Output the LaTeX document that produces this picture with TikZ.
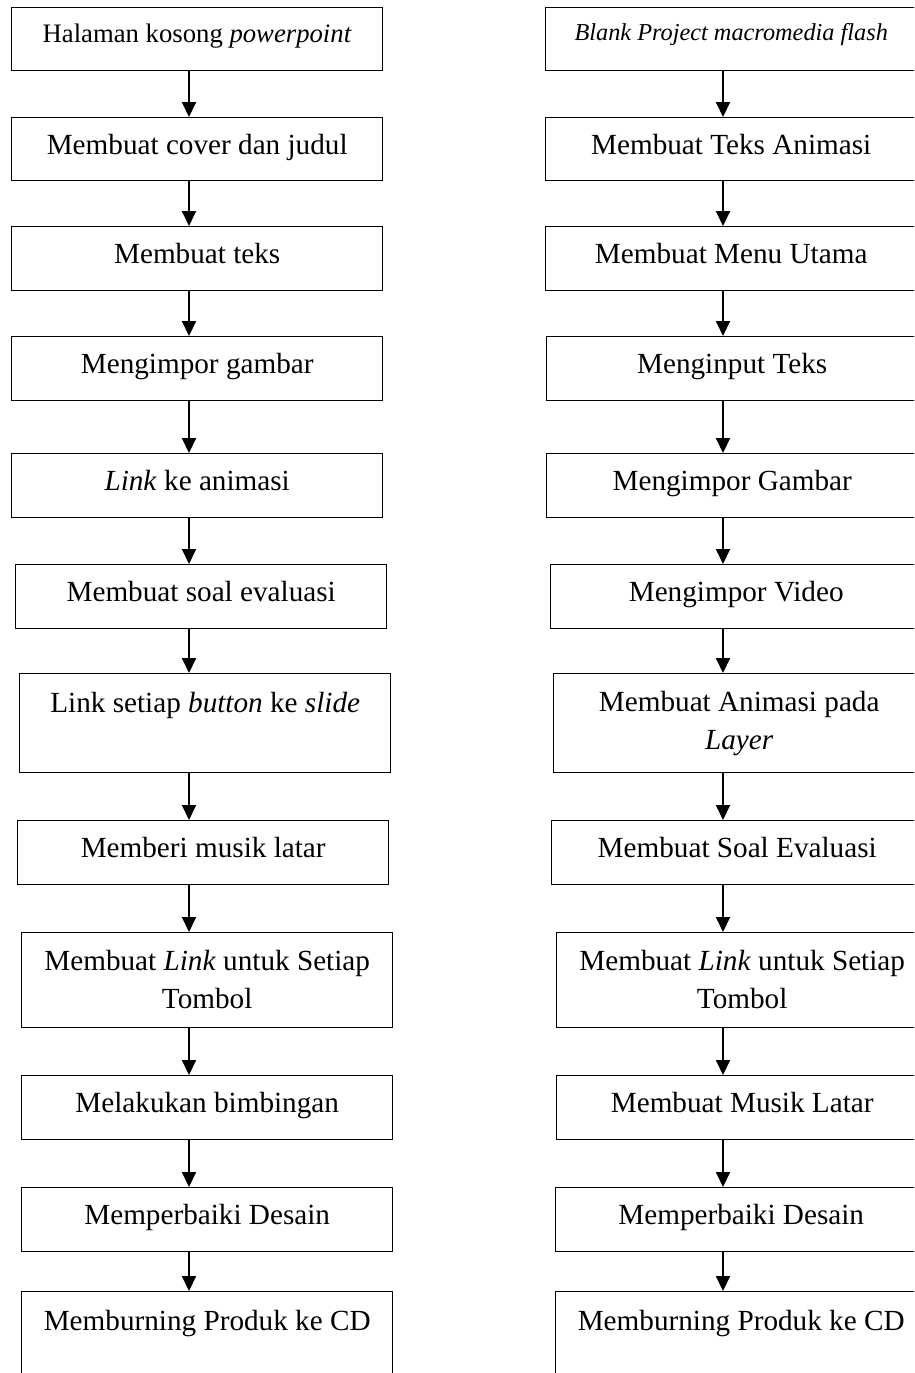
\documentclass[tikz,border=0pt]{standalone}
\usepackage{fontspec}
\setmainfont{Liberation Serif}
\usetikzlibrary{arrows.meta}

% flowchart step: empty frame of fixed size, caption whose last baseline
% sits #6 below the frame's top edge
\newcommand{\flowstep}[7][29.2]{%
  \node[stepframe, minimum height=#5-#4, anchor=north west] (#2) at (#3,#4) {};
  \node[steptext, font=\fontsize{#1}{38}\selectfont] (#2-t) at ([yshift=-#6pt]#2.north) {#7};
}

\begin{document}
\begin{tikzpicture}[x=1pt, y=-1pt,
  stepframe/.style={draw=black, line width=1.4pt, minimum width=371pt, inner sep=0pt},
  steptext/.style={anchor=base, align=center, inner sep=0pt},
  flowarrow/.style={line width=2pt, -{Triangle[width=14pt,length=15pt]}}]
\useasboundingbox (0,0) rectangle (914,1373);
\clip (0,0) rectangle (914,1373);

% column axes for the connectors
\coordinate (axisL) at (189,0);
\coordinate (axisR) at (723,0);

% PowerPoint workflow
\flowstep[26.7]{l1}{11}{7}{70}{35}{Halaman kosong \textit{powerpoint}}
\flowstep{l2}{11}{117}{180}{37}{Membuat cover dan judul}
\flowstep{l3}{11}{226}{290}{37}{Membuat teks}
\flowstep{l4}{11}{336}{400}{37}{Mengimpor gambar}
\flowstep{l5}{11}{453}{517}{37}{\textit{Link} ke animasi}
\flowstep{l6}{15}{564}{628}{37}{Membuat soal evaluasi}
\flowstep{l7}{19}{673}{772}{39}{Link setiap \textit{button} ke \textit{slide}}
\flowstep{l8}{17}{820}{884}{37}{Memberi musik latar}
\flowstep{l9}{21}{932}{1027}{76}{Membuat \textit{Link} untuk Setiap\\Tombol}
\flowstep{l10}{21}{1075}{1139}{37}{Melakukan bimbingan}
\flowstep{l11}{21}{1187}{1251}{37}{Memperbaiki Desain}
\flowstep{l12}{21}{1291}{1420}{39}{Memburning Produk ke CD}

% Flash workflow
\flowstep[24.3]{r1}{545}{7}{70}{33}{\textit{Blank Project macromedia flash}}
\flowstep{r2}{545}{117}{180}{37}{Membuat Teks Animasi}
\flowstep{r3}{545}{226}{290}{37}{Membuat Menu Utama}
\flowstep{r4}{546}{336}{400}{37}{Menginput Teks}
\flowstep{r5}{546}{453}{517}{37}{Mengimpor Gambar}
\flowstep{r6}{550}{564}{628}{37}{Mengimpor Video}
\flowstep{r7}{553}{673}{772}{76}{Membuat Animasi pada\\\textit{Layer}}
\flowstep{r8}{551}{820}{884}{37}{Membuat Soal Evaluasi}
\flowstep{r9}{556}{932}{1027}{76}{Membuat \textit{Link} untuk Setiap\\Tombol}
\flowstep{r10}{556}{1075}{1139}{37}{Membuat Musik Latar}
\flowstep{r11}{555}{1187}{1251}{37}{Memperbaiki Desain}
\flowstep{r12}{555}{1291}{1420}{39}{Memburning Produk ke CD}

% connectors
\foreach \a/\b in {1/2,2/3,3/4,4/5,5/6,6/7,7/8,8/9,9/10,10/11,11/12}{
  \draw[flowarrow] (l\a.south -| axisL) -- (l\b.north -| axisL);
  \draw[flowarrow] (r\a.south -| axisR) -- (r\b.north -| axisR);
}
\end{tikzpicture}
\end{document}
